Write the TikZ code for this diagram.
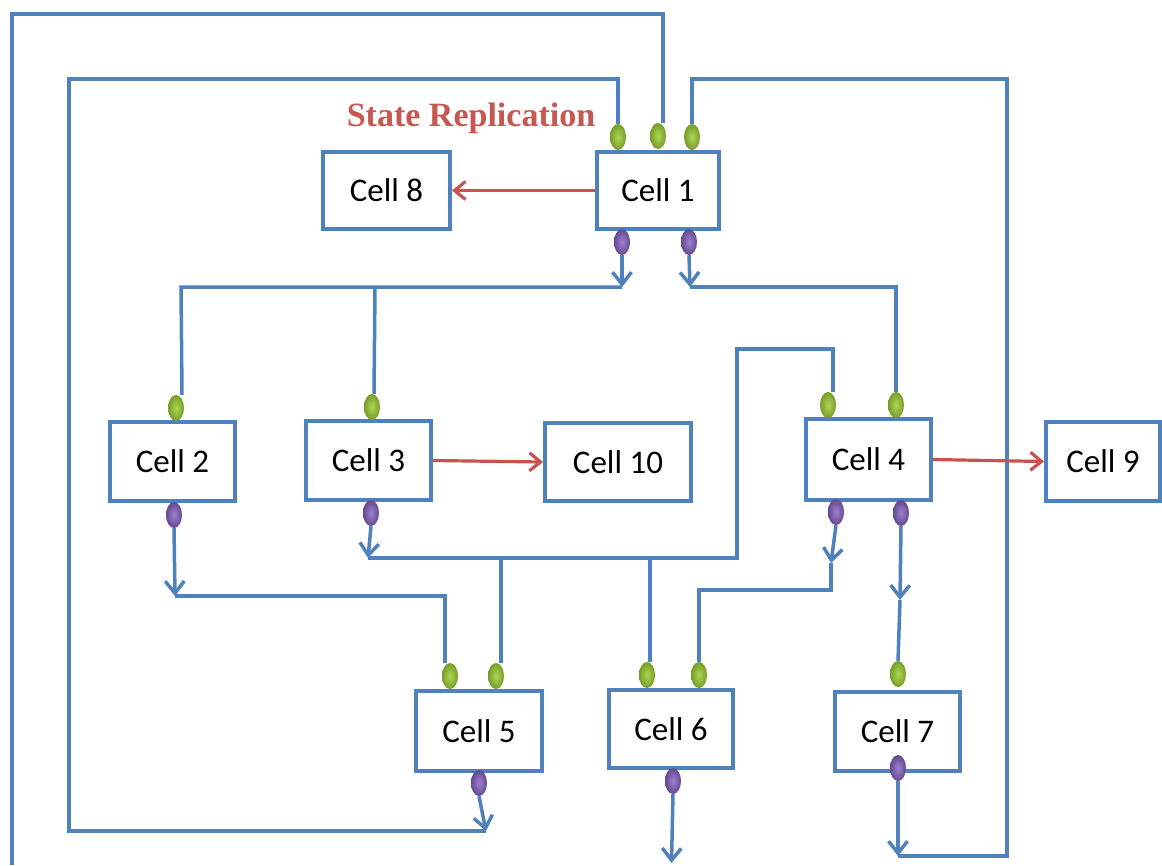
\documentclass[tikz,border=0pt]{standalone}
\usepackage{fontspec}
\setmainfont{Carlito}
\newfontfamily\titlefont{Liberation Serif}
\usetikzlibrary{arrows.meta,shapes.geometric}
\definecolor{bl}{RGB}{79,129,189}
\definecolor{rd}{RGB}{200,82,76}
\definecolor{rdtxt}{RGB}{198,88,82}
\definecolor{gin}{RGB}{175,212,85}
\definecolor{gout}{RGB}{118,158,40}
\definecolor{pin}{RGB}{158,128,204}
\definecolor{pout}{RGB}{100,74,146}
\tikzset{
  cell/.style={draw=bl, line width=4pt, fill=white, inner sep=0pt,
    font=\fontsize{33}{38}\selectfont},
  inport/.style={ellipse, inner sep=0pt, minimum width=16pt, minimum height=26pt,
    shading=radial, inner color=gin, outer color=gout},
  outport/.style={ellipse, inner sep=0pt, minimum width=16pt, minimum height=26pt,
    shading=radial, inner color=pin, outer color=pout},
  portanchor/.style={ellipse, inner sep=0pt, minimum width=16pt, minimum height=26pt},
  wire/.style={draw=bl, line width=3.5pt, line join=miter},
  flow/.style={draw=bl, line width=3.5pt, -{Straight Barb[length=12pt,width=19pt]}},
  repl/.style={draw=rd, line width=3.2pt, -{Straight Barb[length=11pt,width=18pt]}}
}
\begin{document}
\begin{tikzpicture}[x=1pt,y=-1pt]
\useasboundingbox[fill=white] (0,0) rectangle (1162,865);

% cells
\node[cell, minimum width=122pt, minimum height=77pt] (c1) at (658,190.5) {Cell 1};
\node[cell, minimum width=127pt, minimum height=77pt] (c8) at (386.5,190.5) {Cell 8};
\node[cell, minimum width=125pt, minimum height=79pt] (c2) at (172.5,461.5) {Cell 2};
\node[cell, minimum width=125pt, minimum height=79pt] (c3) at (368.5,460.5) {Cell 3};
\node[cell, minimum width=146pt, minimum height=78pt] (c10) at (618,462) {Cell 10};
\node[cell, minimum width=125pt, minimum height=81pt] (c4) at (868.5,459.5) {Cell 4};
\node[cell, minimum width=114pt, minimum height=79pt] (c9) at (1103,461.5) {Cell 9};
\node[cell, minimum width=126pt, minimum height=80pt] (c5) at (479,731) {Cell 5};
\node[cell, minimum width=124pt, minimum height=78pt] (c6) at (671,729) {Cell 6};
\node[cell, minimum width=125pt, minimum height=79pt] (c7) at (897.5,731.5) {Cell 7};

% title
\node[anchor=base, text=rdtxt, font=\titlefont\bfseries\fontsize{34}{40}\selectfont] (title) at (471,126) {State Replication};

% port positions
\coordinate (pg1a) at (618,137);
\coordinate (pg1b) at (658,136);
\coordinate (pg1c) at (692,137);
\coordinate (pp1a) at (622,242);
\coordinate (pp1b) at (689,242);
\coordinate (pg2) at (176,408);
\coordinate (pp2) at (174,515);
\coordinate (pg3) at (372,407);
\coordinate (pp3) at (371,513);
\coordinate (pg4a) at (828,405);
\coordinate (pg4b) at (896,405);
\coordinate (pp4a) at (836,512);
\coordinate (pp4b) at (901,513);
\coordinate (pg5a) at (450,676);
\coordinate (pg5b) at (496,676);
\coordinate (pp5) at (479,783);
\coordinate (pg6a) at (647,675);
\coordinate (pg6b) at (699,675);
\coordinate (pp6) at (673,781);
\coordinate (pg7) at (898,674);
\coordinate (pp7) at (898,768);

% port anchors (named, not drawn)
\foreach \n in {g1a,g1b,g1c,g2,g3,g4a,g4b,g5a,g5b,g6a,g6b,g7,p1a,p1b,p2,p3,p4a,p4b,p5,p6,p7}{
  \node[portanchor] (\n) at (p\n) {};
}

% junction / bend coordinates
\coordinate (o1) at (12,865);
\coordinate (o2) at (663,14);
\coordinate (k5) at (486,831);
\coordinate (tl2) at (69,79);
\coordinate (k7) at (898,856);
\coordinate (r3) at (1007,79);
\coordinate (k1a) at (622,287);
\coordinate (j2) at (181,287);
\coordinate (j3) at (375,287);
\coordinate (k1b) at (690,287);
\coordinate (k2) at (175,596);
\coordinate (k3) at (368,558);
\coordinate (m3) at (737,349);
\coordinate (j5) at (501,558);
\coordinate (j6) at (650,558);
\coordinate (k4a) at (831,563);
\coordinate (j4) at (831,590);
\coordinate (k4b) at (900,600);
\coordinate (k6) at (671.5,863);

% outer loop into Cell 1
\draw[wire] (o1) |- (o2) -- (o2 |- g1b.north);
% Cell 5 -> Cell 1
\draw[flow] (p5.south) -- (k5);
\draw[wire] (k5) -| (tl2) -| (g1a.north);
% Cell 7 -> Cell 1
\draw[flow] (p7.south) -- (k7);
\draw[wire] (k7) -| (r3) -| (g1c.north);
% Cell 1 -> Cell 2, Cell 3
\draw[flow] (p1a.south) -- (k1a);
\draw[wire] (k1a) -- (j2) -- ([xshift=6pt]g2.north);
\draw[wire] (j3) -- ([xshift=2pt]g3.north);
% Cell 1 -> Cell 4
\draw[flow] (p1b.south) -- (k1b);
\draw[wire] (k1b) -| (g4b.north);
% Cell 2 -> Cell 5
\draw[flow] (p2.south) -- (k2);
\draw[wire] (k2) -| ([xshift=-5pt]g5a.north);
% Cell 3 -> Cell 4, Cell 5, Cell 6
\draw[flow] (p3.south) -- (k3);
\draw[wire] (k3) -| (m3) -| ([xshift=5pt]g4a.north);
\draw[wire] (j5) -- ([xshift=5pt]g5b.north);
\draw[wire] (j6) -- ([xshift=3pt]g6a.north);
% Cell 4 -> Cell 6
\draw[flow] (p4a.south) -- (k4a);
\draw[wire] (k4a) -- (j4) -| (g6b.north);
% Cell 4 -> Cell 7
\draw[flow] (p4b.south) -- (k4b);
\draw[wire] (k4b) -- (g7.north);
% Cell 6 out
\draw[flow] (p6.south) -- (k6);

% state replication arrows
\draw[repl] (c1.west) -- (c8.east);
\draw[repl] (c3.east) -- (c10.west);
\draw[repl] (c4.east) -- (c9.west);

% visible ports
\foreach \n in {g1a,g1b,g1c,g2,g3,g4a,g4b,g5a,g5b,g6a,g6b,g7}{
  \node[inport] at (\n) {};
}
\foreach \n in {p1a,p1b,p2,p3,p4a,p4b,p5,p6,p7}{
  \node[outport] at (\n) {};
}
\end{tikzpicture}
\end{document}
